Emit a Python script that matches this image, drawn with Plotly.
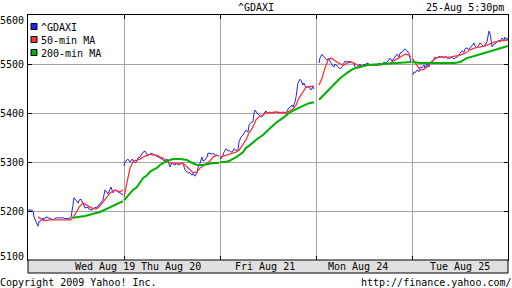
import plotly.graph_objects as go

# ---------------- data ----------------
# Trading session: 09:00-17:30 -> 510 minutes; times are minutes after the open.
SESSION_MIN = 510
DAY_LABELS = ["Wed Aug 19", "Thu Aug 20", "Fri Aug 21", "Mon Aug 24", "Tue Aug 25"]
# where Yahoo printed each day's label (in trading days from the first open)
DAY_LABEL_AT = [0.80, 1.49, 2.47, 3.44, 4.50]
Y_TICKS = [5100, 5200, 5300, 5400, 5500, 5600]

# ^GDAXI index
WED_T = [0, 16, 27, 32, 43, 53, 58, 69, 80, 85, 96, 112, 133, 149, 165, 186, 202, 218, 228, 239,
         244, 255, 266, 271, 282, 292, 303, 319, 324, 340, 351, 367, 377, 398, 409, 425, 430, 441,
         452, 462, 478, 489, 505]
WED_DAX = [5202, 5202, 5200, 5188, 5178, 5169, 5178, 5180, 5186, 5182, 5188, 5186, 5182, 5186, 5186,
           5186, 5184, 5186, 5186, 5212, 5227, 5222, 5216, 5222, 5224, 5216, 5206, 5208, 5204, 5202,
           5206, 5208, 5212, 5222, 5243, 5235, 5239, 5249, 5237, 5243, 5239, 5237, 5233]
THU_T = [0, 5, 16, 21, 32, 43, 48, 58, 69, 74, 85, 96, 101, 112, 122, 128, 138, 149, 154, 165,
         175, 181, 191, 202, 207, 218, 228, 234, 244, 255, 260, 271, 282, 287, 298, 308, 313, 324,
         335, 340, 351, 361, 367, 377, 388, 393, 404, 414, 420, 430, 441, 446, 457, 468, 473, 483,
         494, 499]
THU_DAX = [5292, 5300, 5304, 5306, 5300, 5306, 5304, 5298, 5302, 5308, 5310, 5316, 5320, 5322, 5314,
           5312, 5316, 5318, 5316, 5314, 5312, 5310, 5308, 5306, 5304, 5302, 5306, 5302, 5290, 5298,
           5296, 5294, 5298, 5294, 5296, 5298, 5298, 5284, 5280, 5278, 5278, 5273, 5276, 5271, 5278,
           5288, 5298, 5310, 5302, 5304, 5310, 5318, 5318, 5316, 5318, 5314, 5314, 5312]
FRI_T = [0, 5, 16, 21, 32, 43, 48, 58, 69, 74, 85, 96, 101, 112, 122, 128, 138, 149, 154, 165,
         175, 181, 186, 197, 207, 218, 228, 234, 244, 255, 260, 282, 298, 313, 335, 351, 361, 372,
         383, 388, 398, 404, 409, 414, 425, 430, 441, 446, 457, 468, 473, 483, 494, 499]
FRI_DAX = [5308, 5306, 5314, 5320, 5327, 5322, 5324, 5320, 5322, 5327, 5324, 5324, 5341, 5351, 5355,
           5359, 5365, 5361, 5376, 5380, 5382, 5400, 5406, 5400, 5396, 5392, 5394, 5400, 5404, 5400,
           5402, 5400, 5402, 5400, 5402, 5400, 5408, 5412, 5416, 5412, 5422, 5433, 5451, 5461, 5469,
           5467, 5457, 5461, 5451, 5455, 5453, 5447, 5453, 5449]
MON_T = [16, 21, 32, 43, 48, 58, 69, 74, 85, 96, 101, 112, 122, 128, 138, 149, 154, 165, 175, 181,
         191, 202, 207, 218, 228, 234, 244, 255, 260, 271, 282, 287, 298, 308, 313, 324, 335, 340,
         351, 361, 367, 377, 388, 393, 404, 414, 420, 430, 441, 446, 457, 468, 473, 483, 494, 499, 505]
MON_DAX = [5502, 5512, 5520, 5514, 5512, 5508, 5512, 5506, 5498, 5494, 5500, 5496, 5492, 5490, 5494,
           5502, 5506, 5504, 5506, 5504, 5504, 5500, 5494, 5492, 5498, 5500, 5494, 5500, 5498, 5502,
           5500, 5496, 5500, 5496, 5500, 5496, 5502, 5500, 5498, 5504, 5502, 5504, 5508, 5512, 5506,
           5512, 5514, 5520, 5514, 5522, 5524, 5529, 5531, 5527, 5522, 5512, 5504]
TUE_T = [5, 11, 16, 27, 37, 43, 53, 64, 69, 80, 90, 96, 106, 117, 122, 133, 143, 149, 159, 170,
         175, 186, 197, 202, 213, 223, 228, 239, 250, 255, 266, 276, 282, 292, 303, 308, 319, 329,
         335, 345, 356, 361, 372, 383, 388, 398, 409, 414, 420, 425, 436, 441, 452, 462, 468, 478,
         489, 494, 505, 510]
TUE_DAX = [5478, 5484, 5482, 5488, 5484, 5494, 5492, 5498, 5492, 5500, 5494, 5502, 5504, 5512, 5514,
           5512, 5516, 5514, 5516, 5512, 5516, 5512, 5512, 5512, 5514, 5510, 5512, 5514, 5518, 5522,
           5527, 5524, 5531, 5533, 5529, 5533, 5537, 5543, 5537, 5533, 5539, 5543, 5539, 5535, 5539,
           5545, 5567, 5563, 5549, 5535, 5541, 5541, 5545, 5549, 5545, 5553, 5549, 5555, 5549, 5553]

# 50-minute moving average
WED_MA50_T = [53, 85, 117, 170, 228, 255, 271, 292, 319, 340, 361, 377, 398, 420, 436, 462, 489, 505]
WED_MA50 = [5188, 5180, 5182, 5182, 5182, 5196, 5208, 5216, 5210, 5206, 5204, 5208, 5218, 5229, 5237,
            5243, 5239, 5243]
THU_MA50_T = [0, 11, 16, 27, 32, 43, 48, 69, 85, 101, 122, 138, 154, 175, 191, 207, 228, 244, 260,
              282, 298, 313, 335, 351, 367, 388, 404, 420, 441, 457, 473, 494, 505]
THU_MA50 = [5229, 5249, 5263, 5278, 5288, 5296, 5302, 5304, 5306, 5310, 5314, 5316, 5314, 5314, 5310,
            5308, 5302, 5298, 5298, 5296, 5296, 5298, 5290, 5284, 5278, 5280, 5288, 5292, 5298, 5302,
            5310, 5314, 5312]
FRI_MA50_T = [0, 16, 32, 48, 69, 85, 101, 122, 138, 154, 175, 191, 207, 228, 244, 260, 298, 335, 351,
              367, 388, 404, 420, 441, 457, 473, 494, 499]
FRI_MA50 = [5310, 5312, 5314, 5316, 5318, 5320, 5324, 5335, 5345, 5359, 5371, 5386, 5392, 5396, 5400,
            5400, 5402, 5400, 5400, 5404, 5408, 5416, 5431, 5443, 5453, 5453, 5455, 5453]
MON_MA50_T = [16, 32, 48, 64, 80, 96, 112, 128, 149, 165, 181, 202, 218, 234, 260, 298, 335, 367, 393,
              420, 446, 473, 494, 505]
MON_MA50 = [5457, 5471, 5492, 5508, 5512, 5508, 5504, 5500, 5498, 5502, 5504, 5502, 5498, 5496, 5496,
            5498, 5498, 5500, 5502, 5508, 5514, 5520, 5518, 5514]
TUE_MA50_T = [0, 16, 32, 43, 58, 80, 96, 112, 128, 149, 175, 202, 228, 255, 282, 308, 335, 361, 388,
              414, 441, 468, 494, 510]
TUE_MA50 = [5512, 5502, 5494, 5488, 5488, 5494, 5502, 5508, 5512, 5514, 5514, 5514, 5516, 5518, 5522,
            5529, 5533, 5535, 5537, 5541, 5545, 5547, 5549, 5549]

# 200-minute moving average
WED_MA200_T = [239, 303, 383, 436, 478, 505]
WED_MA200 = [5186, 5190, 5198, 5208, 5216, 5220]
THU_MA200_T = [0, 16, 32, 48, 69, 85, 101, 122, 138, 154, 175, 191, 207, 228, 244, 260, 298, 335, 351,
               367, 388, 420, 441, 473, 505]
THU_MA200 = [5222, 5229, 5237, 5243, 5249, 5257, 5267, 5273, 5280, 5284, 5288, 5294, 5298, 5302, 5304,
             5306, 5306, 5304, 5300, 5298, 5294, 5294, 5296, 5298, 5298]
FRI_MA200_T = [0, 32, 48, 69, 85, 101, 122, 138, 154, 191, 228, 260, 298, 335, 367, 404, 441, 473, 499]
FRI_MA200 = [5300, 5300, 5302, 5306, 5310, 5314, 5320, 5329, 5333, 5345, 5355, 5367, 5380, 5390, 5400,
             5408, 5414, 5420, 5422]
MON_MA200_T = [16, 58, 90, 128, 165, 197, 234, 271, 356, 446, 505]
MON_MA200 = [5427, 5443, 5457, 5471, 5482, 5490, 5494, 5498, 5500, 5502, 5504]
TUE_MA200_T = [0, 43, 96, 149, 202, 228, 255, 292, 345, 398, 452, 510]
TUE_MA200 = [5504, 5502, 5502, 5502, 5502, 5502, 5504, 5512, 5518, 5524, 5531, 5537]

SERIES = [
    ("^GDAXI", "#2222ff", 1.0,
     [WED_T, THU_T, FRI_T, MON_T, TUE_T], [WED_DAX, THU_DAX, FRI_DAX, MON_DAX, TUE_DAX]),
    ("50-min MA", "#ff3333", 1.3,
     [WED_MA50_T, THU_MA50_T, FRI_MA50_T, MON_MA50_T, TUE_MA50_T],
     [WED_MA50, THU_MA50, FRI_MA50, MON_MA50, TUE_MA50]),
    ("200-min MA", "#00b000", 2.0,
     [WED_MA200_T, THU_MA200_T, FRI_MA200_T, MON_MA200_T, TUE_MA200_T],
     [WED_MA200, THU_MA200, FRI_MA200, MON_MA200, TUE_MA200]),
]

# ---------------- figure ----------------
W, H = 512, 288
ML, MR, MT, MB = 28, 4, 15, 28
PW, PH = W - ML - MR, H - MT - MB
FONT = "DejaVu Sans Mono"


def px_x(px):
    return (px - ML) / PW


def px_y(py):
    return (H - MB - py) / PH


fig = go.Figure()
for name, color, width, times, values in SERIES:
    xs, ys = [], []
    for day, (ts, vs) in enumerate(zip(times, values)):
        assert len(ts) == len(vs), name
        xs += [day + t / SESSION_MIN for t in ts] + [None]
        ys += list(vs) + [None]
    fig.add_trace(go.Scatter(x=xs, y=ys, mode="lines", name=name, showlegend=False,
                             line=dict(color=color, width=width), connectgaps=False,
                             hoverinfo="skip"))

shapes = []
annotations = []

# x-axis band with day labels
shapes.append(dict(type="rect", xref="paper", yref="paper", x0=0, x1=1,
                   y0=px_y(273), y1=0, fillcolor="#e0e0e0",
                   line=dict(color="black", width=1), layer="above"))
for lab, pos in zip(DAY_LABELS, DAY_LABEL_AT):
    annotations.append(dict(text=lab, x=pos, xref="x", y=px_y(266.5), yref="paper",
                            xanchor="center", yanchor="middle", showarrow=False,
                            font=dict(family=FONT, size=10, color="black")))

# y tick labels (kept inside the frame at the top and bottom, as Yahoo does)
for i, v in enumerate(Y_TICKS):
    shift = 4 if i == 0 else (-5 if i == len(Y_TICKS) - 1 else 0)
    annotations.append(dict(text=str(v), x=px_x(-2), xref="paper", y=v, yref="y",
                            yshift=shift, xanchor="left", yanchor="middle", showarrow=False,
                            font=dict(family=FONT, size=10, color="black")))

# legend (squares + text)
leg_rows = [26.5, 39.5, 52.5]
for (name, color, _w, _t, _v), cy in zip(SERIES, leg_rows):
    shapes.append(dict(type="rect", xref="paper", yref="paper",
                       x0=px_x(31), x1=px_x(37), y0=px_y(cy + 3), y1=px_y(cy - 3),
                       fillcolor=color, line=dict(color="black", width=1), layer="above"))
    annotations.append(dict(text=name, x=px_x(39), xref="paper", y=px_y(cy + 1), yref="paper",
                            xanchor="left", yanchor="middle", showarrow=False,
                            font=dict(family=FONT, size=10, color="black")))

# header / footer texts
annotations += [
    dict(text="^GDAXI", x=px_x(256), y=px_y(7), xref="paper", yref="paper",
         xanchor="center", yanchor="middle", showarrow=False,
         font=dict(family=FONT, size=10, color="black")),
    dict(text="25-Aug 5:30pm", x=px_x(506), y=px_y(7), xref="paper", yref="paper",
         xanchor="right", yanchor="middle", showarrow=False,
         font=dict(family=FONT, size=10, color="black")),
    dict(text="Copyright 2009 Yahoo! Inc.", x=px_x(-2), y=px_y(282), xref="paper", yref="paper",
         xanchor="left", yanchor="middle", showarrow=False,
         font=dict(family=FONT, size=10, color="black")),
    dict(text="http://finance.yahoo.com/", x=px_x(514), y=px_y(282), xref="paper", yref="paper",
         xanchor="right", yanchor="middle", showarrow=False,
         font=dict(family=FONT, size=10, color="black")),
]

fig.update_layout(
    width=W, height=H,
    margin=dict(l=ML, r=MR, t=MT, b=MB, pad=0),
    paper_bgcolor="white", plot_bgcolor="white",
    showlegend=False,
    shapes=shapes, annotations=annotations,
    xaxis=dict(range=[0, len(DAY_LABELS)], tickvals=list(range(1, len(DAY_LABELS))),
               showticklabels=False, showgrid=True, gridcolor="#a4a4a4", gridwidth=1,
               zeroline=False, showline=True, linecolor="black", linewidth=1,
               mirror="ticks", ticks="inside", ticklen=4, tickcolor="black", tickwidth=1,
               fixedrange=True),
    yaxis=dict(range=[Y_TICKS[0], Y_TICKS[-1]], tickvals=Y_TICKS,
               showticklabels=False,
               showgrid=True, gridcolor="#a4a4a4", gridwidth=1, zeroline=False,
               showline=True, linecolor="black", linewidth=1, mirror="ticks",
               ticks="inside", ticklen=4, tickcolor="black", tickwidth=1,
               fixedrange=True),
)

fig.write_html("out.html", config={"displayModeBar": False, "staticPlot": True})
